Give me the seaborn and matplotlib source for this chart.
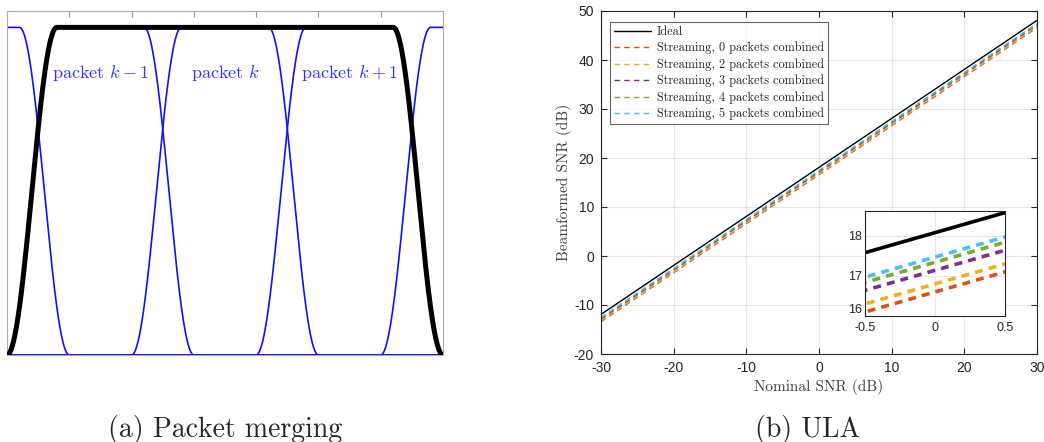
import numpy as np
import pandas as pd
import matplotlib
matplotlib.use("Agg")
import matplotlib.pyplot as plt
import seaborn as sns

sns.set_style("white")
plt.rcParams["mathtext.fontset"] = "cm"
plt.rcParams["axes.unicode_minus"] = False

# ---------------- data: panel (a) ----------------
packet_names = ["k-2", "k-1", "k", "k+1", "k+2"]
packet_starts = [-2.0, 0.0, 2.0, 4.0, 6.0]
packet_ends = [1.0, 3.0, 5.0, 7.0, 9.0]
taper_width = 0.8
merged_start, merged_end = 0.0, 7.0
packet_labels = [r"packet $k-1$", r"packet $k$", r"packet $k+1$"]
label_x = [1.5, 3.5, 5.5]
label_y = 0.86

# ---------------- data: panel (b) ----------------
nominal_snr = [-30.0, -0.5, 0.5, 30.0]
series_names = ["Ideal",
                "Streaming, 0 packets combined",
                "Streaming, 2 packets combined",
                "Streaming, 3 packets combined",
                "Streaming, 4 packets combined",
                "Streaming, 5 packets combined"]
ideal = [-11.92, 17.58, 18.58, 48.08]
stream0 = [-13.40, 16.10, 17.10, 46.60]
stream2 = [-13.20, 16.30, 17.30, 46.80]
stream3 = [-12.86, 16.64, 17.64, 47.14]
stream4 = [-12.66, 16.84, 17.84, 47.34]
stream5 = [-12.53, 16.97, 17.97, 47.47]
series_values = [ideal, stream0, stream2, stream3, stream4, stream5]
series_colors = ["#000000", "#D95319", "#EDB120", "#7E2F8E", "#77AC30", "#4DBEEE"]

# ---------------- figure ----------------
fig = plt.figure(figsize=(10.44, 4.42), dpi=100)
axA = fig.add_axes([7/1044, 87/442, 436/1044, 344/442])
axB = fig.add_axes([601/1044, 88/442, 436/1044, 343/442])
axI = fig.add_axes([865/1044, 126/442, 140/1044, 105/442])


def window(x, a, b, w):
    y = np.zeros_like(x)
    rise = (x >= a) & (x < a + w)
    y[rise] = 0.5 * (1 - np.cos(np.pi * (x[rise] - a) / w))
    flat = (x >= a + w) & (x <= b - w)
    y[flat] = 1.0
    fall = (x > b - w) & (x <= b)
    y[fall] = 0.5 * (1 - np.cos(np.pi * (b - x[fall]) / w))
    return y


xg = np.linspace(0, 7, 1401)
rows = []
for name, a, b in zip(packet_names, packet_starts, packet_ends):
    rows.append(pd.DataFrame({"t": xg, "v": window(xg, a, b, taper_width), "packet": name}))
dfA = pd.concat(rows, ignore_index=True)
sns.lineplot(data=dfA, x="t", y="v", units="packet", estimator=None,
             color="#1010ff", lw=1.2, ax=axA, zorder=2)
dfM = pd.DataFrame({"t": xg, "v": window(xg, merged_start, merged_end, taper_width)})
sns.lineplot(data=dfM, x="t", y="v", color="black", lw=3.6, ax=axA, zorder=3)
for lab, lx in zip(packet_labels, label_x):
    axA.text(lx, label_y, lab, color="#3333ff", ha="center", va="center",
             fontsize=13, family="cmr10")
axA.set_xlim(0, 7)
axA.set_ylim(0, 1.05)
axA.set_xticks([1, 2, 3, 4, 5, 6])
axA.set_yticks([])
axA.tick_params(axis="x", direction="in", top=True, bottom=False, labeltop=False,
                labelbottom=False, length=4, color="#999999")
axA.set_xlabel("")
axA.set_ylabel("")
for s in axA.spines.values():
    s.set_color("#aaaaaa")
    s.set_linewidth(0.8)

# ---------------- panel (b) ----------------
for name, vals, col in zip(series_names, series_values, series_colors):
    d = pd.DataFrame({"x": nominal_snr, "y": vals})
    sns.lineplot(data=d, x="x", y="y", color=col, lw=1.0, ax=axB, label=name)
    if name != "Ideal":
        axB.lines[-1].set_dashes((4, 3))
    sns.lineplot(data=d, x="x", y="y", color=col, lw=2.6, ax=axI)
    if name != "Ideal":
        axI.lines[-1].set_dashes((2.2, 1.7))

axB.set_xlim(-30, 30)
axB.set_ylim(-20, 50)
axB.set_xticks(range(-30, 31, 10))
axB.set_yticks(range(-20, 51, 10))
axB.grid(True, color="#e6e6e6", lw=0.8)
axB.set_axisbelow(True)
axB.tick_params(axis="both", direction="in", length=4, labelsize=10,
                labelcolor="#262626", color="#262626", top=True, right=True,
                bottom=True, left=True, pad=5)
for lab in axB.get_xticklabels() + axB.get_yticklabels():
    lab.set_family("Liberation Sans")
for s in axB.spines.values():
    s.set_color("#262626")
    s.set_linewidth(0.8)
axB.set_xlabel("Nominal SNR (dB)", family="cmr10", fontsize=11, color="#404040", labelpad=3)
axB.set_ylabel("Beamformed SNR (dB)", family="cmr10", fontsize=11, color="#404040", labelpad=1)
leg = axB.legend(loc="upper left", bbox_to_anchor=(0.016, 0.975),
                 prop={"family": "cmr10", "size": 8.8}, frameon=True, fancybox=False,
                 handlelength=3.0, handletextpad=0.5, borderpad=0.3, labelspacing=0.32,
                 borderaxespad=0.2)
leg.get_frame().set_edgecolor("#404040")
leg.get_frame().set_linewidth(0.8)

axI.set_xlim(-0.5, 0.5)
axI.set_ylim(16, 18.62)
axI.set_xticks([-0.5, 0, 0.5])
axI.set_xticklabels(["-0.5", "0", "0.5"])
axI.set_yticks([16, 17, 18])
axI.grid(True, color="#e6e6e6", lw=0.8)
axI.set_axisbelow(True)
axI.tick_params(axis="both", direction="in", length=3, labelsize=9,
                labelcolor="#262626", color="#262626")
axI.tick_params(axis="x", pad=4)
axI.tick_params(axis="y", pad=2)
for lab in axI.get_xticklabels() + axI.get_yticklabels():
    lab.set_family("Liberation Sans")
axI.get_yticklabels()[0].set_va("bottom")
for s in axI.spines.values():
    s.set_color("#262626")
    s.set_linewidth(0.8)
axI.set_xlabel("")
axI.set_ylabel("")
axI.set_facecolor("white")

# captions
fig.text(225/1044, 1 - 437/442, "(a) Packet merging", family="cmr10", fontsize=20,
         ha="center", va="baseline")
fig.text(808/1044, 1 - 437/442, "(b) ULA", family="cmr10", fontsize=20,
         ha="center", va="baseline")

fig.savefig("out.png", dpi=100)
